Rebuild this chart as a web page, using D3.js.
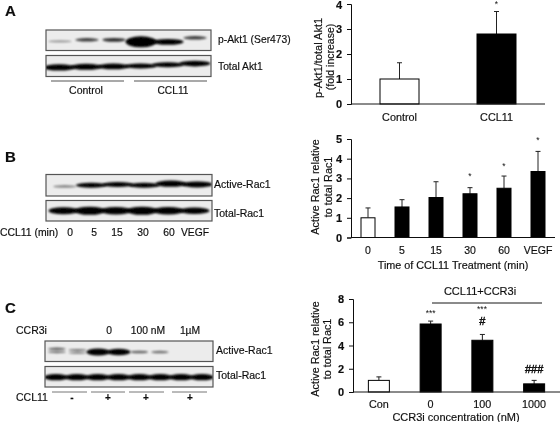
<!DOCTYPE html>
<html><head><meta charset="utf-8">
<script src="https://cdn.jsdelivr.net/npm/d3@7"></script>
<style>html,body{margin:0;background:#fff}svg{display:block}text{font-family:"Liberation Sans",Arial,sans-serif;fill:#111;stroke:#111;stroke-width:.18px}</style>
</head><body><div id="c"></div>
<script>
// Bar chart data
const catA=["Control","CCL11"], valA=[1,2.8], errA=[1.65,3.7], ticksA=[0,1,2,3,4];
const catB=["0","5","15","30","60","VEGF"], valB=[1,1.55,2.03,2.22,2.5,3.35], errB=[1.5,1.92,2.83,2.53,3.12,4.37], ticksB=[0,1,2,3,4,5];
const catC=["Con","0","100","1000"], valC=[1,5.85,4.45,0.7], errC=[1.3,6.1,4.95,1.0], ticksC=[0,2,4,6,8];
const markA=["","*"], markB=["","","","*","*","*"];
const markC=["","***","#","###"];
// Blot band densities (relative) and migration drift per lane
const pAkt=[.1,.26,.3,1,.5,.26], pAktDrift=[.3,-.1,-.1,.4,.4,-.6];
const totAkt=[.55,.5,.48,.42,.42,.48], totAktDrift=[.35,.2,.1,0,-.3,-.6];
const actRacB=[.14,.4,.42,.42,.55,.5], actRacBDrift=[.3,0,-.2,0,-.4,-.2];
const totRacB=[.62,.72,.66,.72,.66,.55], totRacBDrift=[0,0,0,0,0,0];
const actRacC=[.18,.14,.62,.55,.18,.16,0,0], actRacCDrift=[-.6,-.3,.2,.2,.2,.2,0,0];
const actRacC2=[.14,.12,0,0,0,0,0,0], actRacC2Drift=[.2,.4,0,0,0,0,0,0];
const totRacC=[.55,.55,.55,.55,.55,.55,.55,.55], totRacCDrift=[.1,.1,.1,.1,.1,.1,.1,.1];

const svg=d3.select("#c").append("svg").attr("width",560).attr("height",422);
const defs=svg.append("defs");
defs.append("filter").attr("id","soft").attr("x","-5%").attr("y","-5%").attr("width","110%").attr("height","110%")
  .append("feGaussianBlur").attr("stdDeviation",.32);
defs.append("filter").attr("id","band").attr("x","-30%").attr("y","-150%").attr("width","160%").attr("height","400%")
  .append("feGaussianBlur").attr("stdDeviation",.8);
const root=svg.append("g").attr("filter","url(#soft)");
const thick=d3.scaleLinear().domain([0,1]).range([.8,11]);
const dark=d3.scaleLinear().domain([0,.4]).range([.25,1]).clamp(true);
const drift=d3.scaleLinear().domain([-1,1]).range([-4,4]);
let clipN=0;
function blot(x0,x1,y0,y1,lo,hi,layers){
  root.append("rect").attr("x",x0).attr("y",y0).attr("width",x1-x0).attr("height",y1-y0).attr("fill","#ececec");
  const id="cl"+(clipN++);
  defs.append("clipPath").attr("id",id).append("rect").attr("x",x0).attr("y",y0).attr("width",x1-x0).attr("height",y1-y0);
  const g=root.append("g").attr("clip-path",`url(#${id})`);
  layers.forEach(([vals,dr])=>{
    const xs=d3.scaleBand().domain(d3.range(vals.length)).range([lo,hi]).paddingInner(.04);
    const cy=(y0+y1)/2;
    g.selectAll(null).data(vals.map((v,i)=>({v,d:dr[i],i})).filter(d=>d.v>0)).join("ellipse")
      .attr("filter","url(#band)")
      .attr("cx",d=>xs(d.i)+xs.bandwidth()/2).attr("cy",d=>cy+drift(d.d))
      .attr("rx",d=>xs.bandwidth()/2*(d.v<.35?.9:1.2)).attr("ry",d=>thick(d.v)/2)
      .attr("fill","#000").attr("opacity",d=>dark(d.v));
  });
  root.append("rect").attr("x",x0).attr("y",y0).attr("width",x1-x0).attr("height",y1-y0)
    .attr("fill","none").attr("stroke","#555").attr("stroke-width",1.2);
}
function txt(x,y,s,size=10.3,anchor="start",weight=400){
  return root.append("text").attr("x",x).attr("y",y).attr("font-size",size).attr("text-anchor",anchor)
    .attr("font-weight",weight).text(s);
}
function rule(a,b,y,c="#555",w=1){root.append("line").attr("x1",a).attr("x2",b).attr("y1",y).attr("y2",y).attr("stroke",c).attr("stroke-width",w);}

function bars(o){
  const y=d3.scaleLinear().domain(o.dom).range([o.y0,o.y1]);
  const x=d3.scaleBand().domain(o.cat).range([o.x0,o.x1]);
  const g=root.append("g");
  const c=i=>x(o.cat[i])+x.bandwidth()/2;
  g.selectAll(null).data(o.val).join("line").attr("x1",(d,i)=>c(i)).attr("x2",(d,i)=>c(i))
    .attr("y1",d=>y(d)).attr("y2",(d,i)=>y(o.err[i])).attr("stroke","#222").attr("stroke-width",1);
  g.selectAll(null).data(o.err).join("line").attr("x1",(d,i)=>c(i)-o.cap).attr("x2",(d,i)=>c(i)+o.cap)
    .attr("y1",d=>y(d)).attr("y2",d=>y(d)).attr("stroke","#222").attr("stroke-width",1);
  g.selectAll(null).data(o.val).join("rect")
    .attr("x",(d,i)=>c(i)-o.bw/2).attr("width",o.bw).attr("y",d=>y(d)).attr("height",d=>y(0)-y(d))
    .attr("fill",(d,i)=>i===0?"#fff":"#000").attr("stroke","#000").attr("stroke-width",1);
  const ax=g.append("g").attr("transform",`translate(${o.x0},0)`)
    .call(d3.axisLeft(y).tickValues(o.ticks).tickFormat(d3.format("d")).tickSize(4).tickPadding(5));
  ax.select(".domain").attr("stroke","#111").attr("stroke-width",1);
  ax.selectAll("line").attr("stroke","#111");
  ax.selectAll("text").attr("font-size",11).attr("font-weight",700).style("font-family",'"Liberation Sans"').attr("fill","#111");
  // keep the topmost label fully inside the picture
  ax.selectAll(".tick text").filter(d=>y(d)<6).attr("dy","0.45em");
  g.append("line").attr("x1",o.x0).attr("x2",o.x1).attr("y1",y(0)).attr("y2",y(0)).attr("stroke","#111").attr("stroke-width",1);
  o.cat.forEach((t,i)=>txt(c(i),o.ly,t,o.lsize,"middle"));
  o.marks.forEach((m,i)=>{
    if(!m) return;
    const isHash=m[0]==="#";
    txt(c(i),o.my[i],m,isHash?11:8.5,"middle").style("stroke",isHash?"#111":"none").style("stroke-width",isHash?".45px":null).attr("fill",isHash?"#111":"#444");
  });
}
function rot(x,y,s,size=10.8){
  root.append("text").attr("transform",`translate(${x},${y}) rotate(-90)`).attr("text-anchor","middle").attr("font-size",size).text(s);
}

// Panel letters
txt(5,16,"A",15,"start",700); txt(5,162,"B",15,"start",700); txt(5,313,"C",15,"start",700);

// Panel A blots
blot(46,211,30,50.5,47,208,[[pAkt,pAktDrift]]);
blot(46,211,55.5,76.5,46,208,[[totAkt,totAktDrift]]);
txt(218,43,"p-Akt1 (Ser473)"); txt(218,70,"Total Akt1");
rule(51,124,81); rule(134,207,81);
txt(86,94,"Control",10.5,"middle"); txt(173,94,"CCL11",10.2,"middle");

bars({cat:catA,val:valA,err:errA,dom:[0,4],ticks:ticksA,y0:104,y1:4,x0:351,x1:545,bw:39,cap:2.5,ly:121,lsize:10.8,
  marks:markA,my:[0,7]});
rot(321.5,58,"p-Akt1/total Akt1",11); rot(334,57,"(fold increase)",10.5);

// Panel B blots
blot(46,212,174.5,196,52,210,[[actRacB,actRacBDrift]]);
blot(46,212,200.5,221,51,207,[[totRacB,totRacBDrift]]);
txt(214,188,"Active-Rac1",10.5); txt(214,217,"Total-Rac1",10.5);
txt(0,236,"CCL11 (min)",10.4);
[[70,"0"],[94,"5"],[117,"15"],[143,"30"],[169,"60"],[195,"VEGF"]].forEach(([x,t])=>txt(x,236,t,10.3,"middle"));

bars({cat:catB,val:valB,err:errB,dom:[0,5],ticks:ticksB,y0:237.5,y1:139,x0:351,x1:555,bw:14,cap:2.5,ly:254,lsize:10.5,
  marks:markB,my:[0,0,0,179,169,143]});
rot(319,187,"Active Rac1 relative",10.8); rot(331.5,187,"to total Rac1",10.8);
txt(453,269,"Time of CCL11 Treatment (min)",10.8,"middle");

// Panel C blots
blot(45,213,341,361.5,47,211,[[actRacC,actRacCDrift],[actRacC2,actRacC2Drift]]);
blot(45,213,366.5,387,46,212,[[totRacC,totRacCDrift]]);
txt(216,354,"Active-Rac1",10.5); txt(216,379,"Total-Rac1",10.5);
txt(16,334,"CCR3i",10.5);
[[109,"0"],[148,"100 nM"],[190,"1µM"]].forEach(([x,t])=>txt(x,334,t,10.3,"middle"));
txt(16,401,"CCL11",10.5);
[[72,"-"],[108,"+"],[146,"+"],[190,"+"]].forEach(([x,t])=>txt(x,401,t,10,"middle",700));
rule(52,87,392,"#777"); rule(91,125,392,"#777"); rule(129,164,392,"#777"); rule(172,207,392,"#777");

bars({cat:catC,val:valC,err:errC,dom:[0,8],ticks:ticksC,y0:392,y1:299,x0:353,x1:560,bw:21,cap:2.5,ly:408,lsize:10.8,
  marks:markC,my:[0,316,325,373]});
rot(318.5,349,"Active Rac1 relative",10.8); rot(331,349,"to total Rac1",10.8);
txt(456,421,"CCR3i concentration (nM)",11,"middle");
rule(432,542,303,"#111",1);
txt(480,295,"CCL11+CCR3i",11,"middle");
txt(482,312,"***",8.5,"middle").style("stroke","none").attr("fill","#444");
</script></body></html>
